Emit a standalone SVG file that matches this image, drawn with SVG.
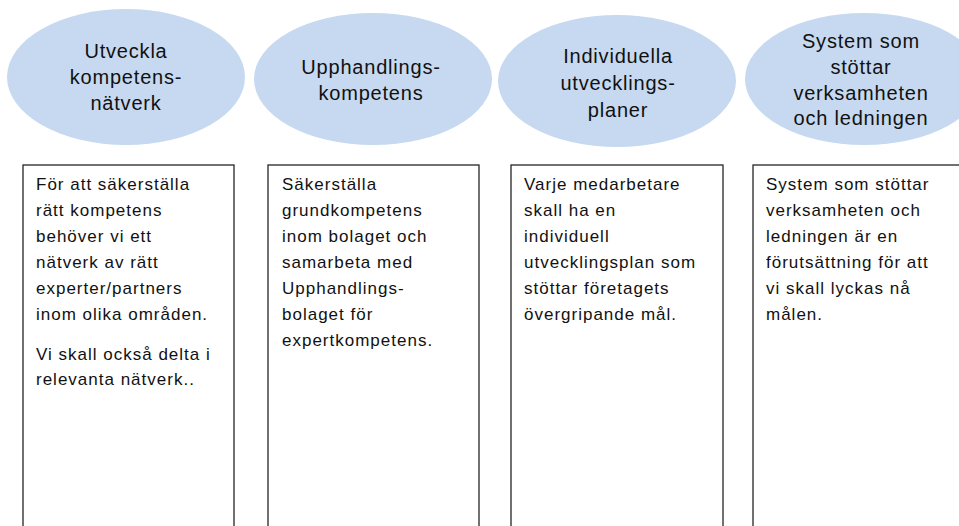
<svg xmlns="http://www.w3.org/2000/svg" width="959" height="526" viewBox="0 0 959 526">
<style>
.el{fill:#c6d9f0;stroke:none}
.bx{fill:#fff;stroke:#262626;stroke-width:1.3}
.t{font-family:"Liberation Sans",Arial,sans-serif;fill:#111}
.h{font-size:20px;text-anchor:middle;letter-spacing:0.8px}
.b{font-size:17px;letter-spacing:1px}
</style>
<rect width="959" height="526" fill="#fff"/>
<g id="node1">
<ellipse class="el" cx="126" cy="77" rx="119" ry="68"/>
<text class="t h" x="126" y="58">Utveckla</text>
<text class="t h" x="126" y="84">kompetens-</text>
<text class="t h" x="126" y="110">nätverk</text>
</g>
<g id="node2">
<ellipse class="el" cx="373" cy="79" rx="119" ry="66"/>
<text class="t h" x="371" y="74">Upphandlings-</text>
<text class="t h" x="371" y="100">kompetens</text>
</g>
<g id="node3">
<ellipse class="el" cx="617" cy="81" rx="119" ry="66"/>
<text class="t h" x="618" y="63">Individuella</text>
<text class="t h" x="618" y="90">utvecklings-</text>
<text class="t h" x="618" y="117">planer</text>
</g>
<g id="node4">
<ellipse class="el" cx="864" cy="79" rx="119" ry="66"/>
<text class="t h" x="861" y="48">System som</text>
<text class="t h" x="861" y="74">stöttar</text>
<text class="t h" x="861" y="100">verksamheten</text>
<text class="t h" x="861" y="125">och ledningen</text>
</g>
<g id="box1">
<rect class="bx" x="23" y="165" width="211" height="380"/>
<text class="t b" x="36"><tspan x="36" y="190">För att säkerställa</tspan><tspan x="36" y="216">rätt kompetens</tspan><tspan x="36" y="242">behöver vi ett</tspan><tspan x="36" y="268">nätverk av rätt</tspan><tspan x="36" y="294">experter/partners</tspan><tspan x="36" y="320">inom olika områden.</tspan><tspan x="36" y="360">Vi skall också delta i</tspan><tspan x="36" y="385">relevanta nätverk..</tspan></text>
</g>
<g id="box2">
<rect class="bx" x="268" y="165" width="211" height="380"/>
<text class="t b" x="282"><tspan x="282" y="190">Säkerställa</tspan><tspan x="282" y="216">grundkompetens</tspan><tspan x="282" y="242">inom bolaget och</tspan><tspan x="282" y="268">samarbeta med</tspan><tspan x="282" y="294">Upphandlings-</tspan><tspan x="282" y="320">bolaget för</tspan><tspan x="282" y="346">expertkompetens.</tspan></text>
</g>
<g id="box3">
<rect class="bx" x="511" y="165" width="212" height="380"/>
<text class="t b" x="524"><tspan x="524" y="190">Varje medarbetare</tspan><tspan x="524" y="216">skall ha en</tspan><tspan x="524" y="242">individuell</tspan><tspan x="524" y="268">utvecklingsplan som</tspan><tspan x="524" y="294">stöttar företagets</tspan><tspan x="524" y="320">övergripande mål.</tspan></text>
</g>
<g id="box4">
<rect class="bx" x="753" y="165" width="240" height="380"/>
<text class="t b" x="766"><tspan x="766" y="190">System som stöttar</tspan><tspan x="766" y="216">verksamheten och</tspan><tspan x="766" y="242">ledningen är en</tspan><tspan x="766" y="268">förutsättning för att</tspan><tspan x="766" y="294">vi skall lyckas nå</tspan><tspan x="766" y="320">målen.</tspan></text>
</g>
<g id="connectors"></g>
</svg>
